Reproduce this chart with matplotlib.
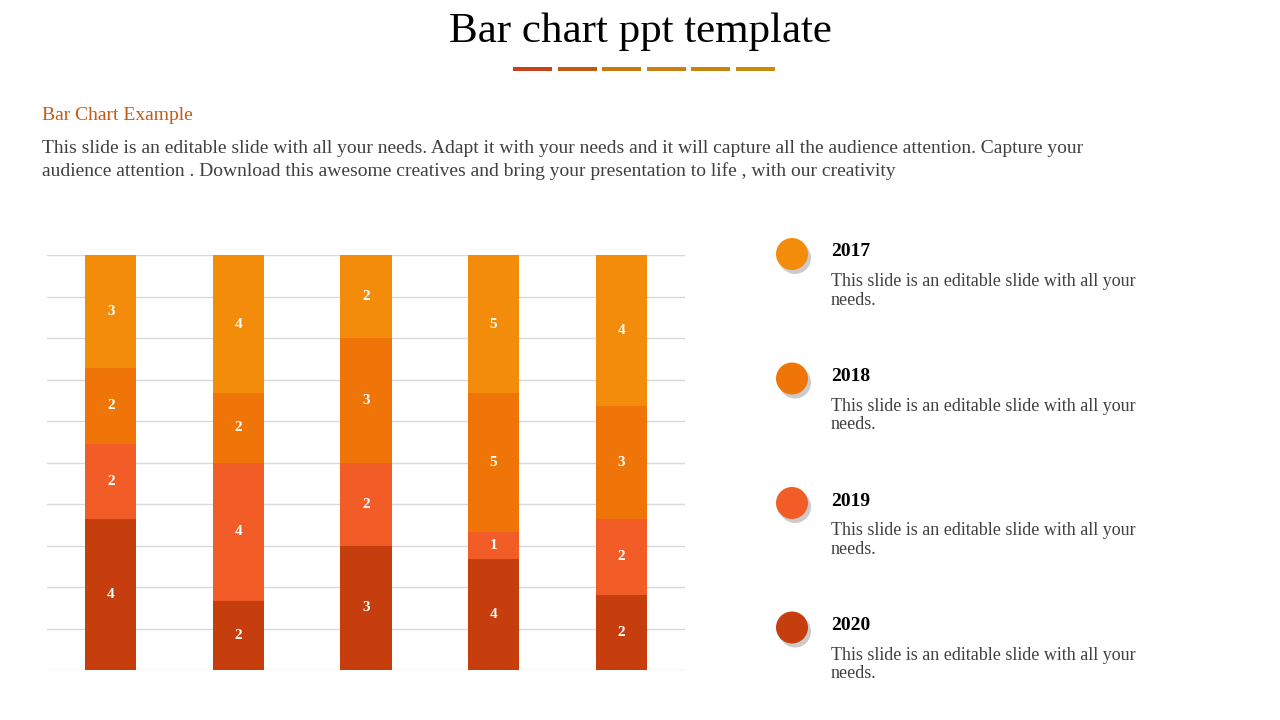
import matplotlib
matplotlib.use("Agg")
import matplotlib.pyplot as plt
from matplotlib.patches import Circle, Rectangle
import numpy as np

years = ["2020", "2019", "2018", "2017"]  # bottom to top
values = {
    "2020": [4, 2, 3, 4, 2],
    "2019": [2, 4, 2, 1, 2],
    "2018": [2, 2, 3, 5, 3],
    "2017": [3, 4, 2, 5, 4],
}
colors = {"2020": "#C63E0E", "2019": "#F25C27", "2018": "#F07508", "2017": "#F28C0A"}
legend_text = "This slide is an editable slide with all your\nneeds."
body = ("This slide is an editable slide with all your needs. Adapt it with your needs and it will capture all the audience attention. Capture your\n"
        "audience attention . Download this awesome creatives and bring your presentation to life , with our creativity")

W, H = 1280, 720
fig = plt.figure(figsize=(12.8, 7.2), dpi=100)
serif = "Liberation Serif"

# overlay for decorations (pixel coords)
ov = fig.add_axes([0, 0, 1, 1])
ov.set_xlim(0, W)
ov.set_ylim(H, 0)
ov.axis("off")

ov.text(640, 32, "Bar chart ppt template", ha="center", va="center", fontsize=31, family=serif)
seg_cols = ["#C8411A", "#C45A12", "#C77A10", "#C9800E", "#C9840E", "#C98A0E"]
for i, c in enumerate(seg_cols):
    ov.add_patch(Rectangle((513 + i * 44.6, 67), 39, 4, color=c, lw=0))
ov.text(42, 115, "Bar Chart Example", ha="left", va="center", fontsize=14, family=serif, color="#C55A11")
ov.text(42, 160, body, ha="left", va="center", fontsize=14, family=serif, color="#404040", linespacing=1.3)

for i, y in enumerate(reversed(years)):
    cy = 254 + i * 124.5
    ov.add_patch(Circle((795, cy + 4), 16, color="#999999", alpha=0.5, lw=0))
    ov.add_patch(Circle((792, cy), 16, color=colors[y], lw=0))
    ov.text(831, cy - 2, y, ha="left", va="center", fontsize=14, family=serif, fontweight="bold")
    ov.text(831, cy + 37, legend_text, ha="left", va="center", fontsize=13, family=serif, color="#404040", linespacing=1.15)

# chart
ax = fig.add_axes([47 / W, 1 - 670 / H, 638 / W, 415 / H])
x = np.arange(5)
totals = np.sum([values[y] for y in years], axis=0)
bottom = np.zeros(5)
for y in years:
    v = np.array(values[y], dtype=float)
    frac = v / totals
    ax.bar(x, frac, 0.4, bottom=bottom, color=colors[y], zorder=3)
    for xi, f, b, lab in zip(x, frac, bottom, v):
        ax.text(xi, b + f / 2, f"{int(lab)}", ha="center", va="center", color="white",
                fontsize=11, fontweight="bold", family=serif, zorder=4)
    bottom += frac
ax.set_xlim(-0.5, 4.5)
ax.set_ylim(0, 1)
ax.set_yticks(np.linspace(0, 1, 11))
ax.grid(axis="y", color="#D9D9D9", lw=1, zorder=0)
ax.tick_params(left=False, bottom=False, labelleft=False, labelbottom=False)
for s in ax.spines.values():
    s.set_visible(False)

fig.savefig("out.png", dpi=100)
